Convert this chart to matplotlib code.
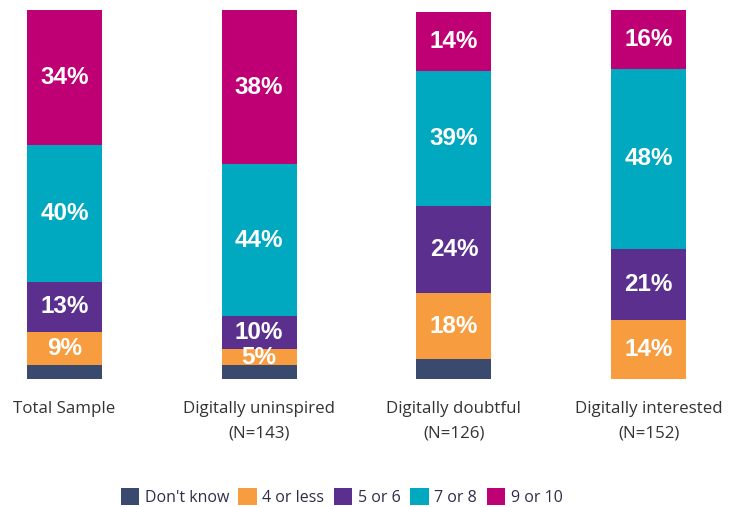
import matplotlib.pyplot as plt
import numpy as np

# group names shown under the bars
groups = [
    "Total Sample",
    "Digitally uninspired\n(N=143)",
    "Digitally doubtful\n(N=126)",
    "Digitally interested\n(N=152)",
]

# segment heights (%), bottom to top
dont_know = [3.7, 3.7, 5.3, 0.0]
four_or_less = [9.0, 4.3, 17.9, 15.9]
five_or_six = [13.6, 9.0, 23.6, 19.3]
seven_or_eight = [37.0, 41.1, 36.6, 48.8]
nine_or_ten = [36.8, 41.8, 16.0, 16.0]

# printed labels for each segment ("" = no label)
lbl_dont_know = ["", "", "", ""]
lbl_four_or_less = ["9%", "5%", "18%", "14%"]
lbl_five_or_six = ["13%", "10%", "24%", "21%"]
lbl_seven_or_eight = ["40%", "44%", "39%", "48%"]
lbl_nine_or_ten = ["34%", "38%", "14%", "16%"]

series = [
    ("Don't know", dont_know, lbl_dont_know, "#3a4a6f"),
    ("4 or less", four_or_less, lbl_four_or_less, "#f79d40"),
    ("5 or 6", five_or_six, lbl_five_or_six, "#5b2f8e"),
    ("7 or 8", seven_or_eight, lbl_seven_or_eight, "#00a8c0"),
    ("9 or 10", nine_or_ten, lbl_nine_or_ten, "#be0074"),
]

fig = plt.figure(figsize=(7.29, 5.07), dpi=100)
ax = fig.add_axes([0.0, 1 - 378.7 / 507, 1.0, (378.7 - 10) / 507])

x = np.arange(len(groups))
bottom = np.zeros(len(groups))
handles = []
for name, vals, labels, color in series:
    vals = np.array(vals)
    bars = ax.bar(x, vals, width=0.385, bottom=bottom, color=color, label=name)
    handles.append(bars)
    for xi, b, v, t in zip(x, bottom, vals, labels):
        if t:
            ax.text(
                xi,
                b + v / 2,
                t,
                ha="center",
                va="center",
                color="white",
                fontsize=17.5,
                fontweight="bold",
                family="Liberation Sans",
            )
    bottom += vals

ax.set_xlim(-64.5 / 195, 3 + (729 - 648.5) / 195)
ax.set_ylim(0, 100)
ax.axis("off")

# category labels under the bars
for xi, g in zip(x, groups):
    ax.text(
        xi,
        -6.0,
        g,
        ha="center",
        va="top",
        fontsize=12.2,
        family="Open Sans",
        color="#333333",
        linespacing=1.7,
    )

fig.legend(
    handles=handles,
    loc="center",
    bbox_to_anchor=(341.5 / 729, 1 - 497 / 507),
    ncol=5,
    frameon=False,
    prop={"family": "Open Sans", "size": 11.5},
    labelcolor="#2e2e4a",
    handlelength=1.15,
    handleheight=1.3,
    handletextpad=0.35,
    columnspacing=0.6,
)

plt.savefig("out.png", dpi=100)
